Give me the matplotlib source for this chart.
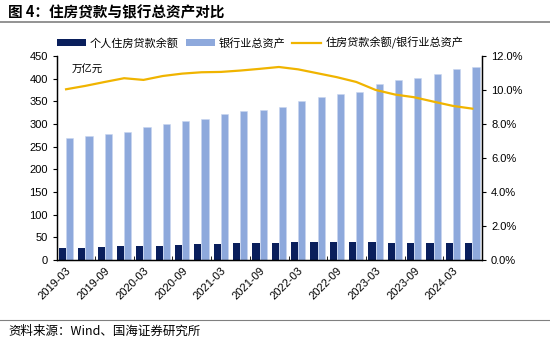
import numpy as np
import matplotlib
matplotlib.use("Agg")
import matplotlib.pyplot as plt
from matplotlib.patches import Patch
from matplotlib.lines import Line2D

plt.rcParams['font.family'] = ['Liberation Sans', 'Noto Sans CJK SC', 'DejaVu Sans']

# quarterly data, 2019-03 .. 2024-06
quarters = ['2019-03', '2019-06', '2019-09', '2019-12',
            '2020-03', '2020-06', '2020-09', '2020-12',
            '2021-03', '2021-06', '2021-09', '2021-12',
            '2022-03', '2022-06', '2022-09', '2022-12',
            '2023-03', '2023-06', '2023-09', '2023-12',
            '2024-03', '2024-06']
housing_loans = [25.8, 26.9, 28.0, 30.1, 30.6, 31.8, 33.0, 34.4,
                 35.6, 36.6, 37.4, 38.3, 38.7, 38.9, 38.9, 38.8,
                 39.1, 38.6, 38.4, 38.2, 37.7, 37.8]
bank_assets = [268, 273.5, 277, 282, 293, 301, 307, 312,
               322, 328, 331, 337, 350, 360, 366, 371,
               389, 398, 401, 410, 421, 425]
loan_ratio = [10.04, 10.24, 10.47, 10.69, 10.59, 10.82, 10.96, 11.04,
              11.06, 11.14, 11.24, 11.35, 11.21, 10.98, 10.75, 10.47,
              10.00, 9.73, 9.57, 9.31, 9.06, 8.90]

dark = '#0A1F5C'
light = '#8EA9DC'
gold = '#F0B400'

fig = plt.figure(figsize=(5.5, 3.39), dpi=100)
ax = fig.add_axes([0.1036, 0.233, 0.7728, 0.602])
ax2 = ax.twinx()

x = np.arange(len(quarters))
w = 0.37
ax.bar(x - w / 2, housing_loans, width=w, color=dark, zorder=2)
ax.bar(x + w / 2, bank_assets, width=w, color=light, edgecolor='#C9D6EF', linewidth=0.4, zorder=2)
ax2.plot(x, np.array(loan_ratio) / 100, color=gold, linewidth=1.6)

ax.set_xlim(-0.47, len(quarters) - 0.55)
ax.set_ylim(0, 450)
ax.set_yticks(range(0, 451, 50))
ax2.set_ylim(0, 0.12)
ax2.set_yticks(np.arange(0, 0.121, 0.02))
ax2.set_yticklabels([f'{v * 100:.1f}%' for v in np.arange(0, 0.121, 0.02)])

ax.set_xticks(x[::2])
ax.set_xticklabels(quarters[::2], rotation=45, ha='right', rotation_mode='anchor')
ax.set_xticks(np.arange(1.5, len(quarters), 2), minor=True)
ax.tick_params(axis='x', which='major', length=0, labelsize=8, pad=4)
ax.tick_params(axis='x', which='minor', direction='in', length=3)
ax.tick_params(axis='y', labelsize=8, length=3, direction='out')
ax2.tick_params(axis='y', labelsize=8, length=3, direction='out')

for a in (ax, ax2):
    a.spines['top'].set_visible(False)
    for s in ('left', 'right', 'bottom'):
        a.spines[s].set_linewidth(0.9)

ax.text(0.035, 0.93, '万亿元', transform=ax.transAxes, fontsize=7.5,
        style='italic', va='center', family=['Noto Sans CJK SC'])

handles = [Patch(facecolor=dark), Patch(facecolor=light),
           Line2D([0], [0], color=gold, linewidth=1.6)]
labels = ['个人住房贷款余额', '银行业总资产', '住房贷款余额/银行业总资产']
fig.legend(handles, labels, loc='center', bbox_to_anchor=(0.473, 0.873), ncol=3,
           frameon=False, handlelength=2.6, handleheight=0.6,
           columnspacing=0.6, handletextpad=0.4,
           prop={'family': ['Noto Sans CJK SC'], 'size': 8})

fig.text(0.015, 0.963, '图 4：住房贷款与银行总资产对比', fontsize=10.5, fontweight='bold',
         va='center', family=['Noto Sans CJK SC'])
fig.add_artist(Line2D([0, 1], [0.935, 0.935], color='#808080', linewidth=1.2))
fig.add_artist(Line2D([0, 1], [0.056, 0.056], color='#808080', linewidth=0.8))
fig.text(0.015, 0.024, '资料来源：Wind、国海证券研究所', fontsize=9, va='center',
         family=['Noto Sans CJK SC'])

fig.savefig('out.png', dpi=100)
